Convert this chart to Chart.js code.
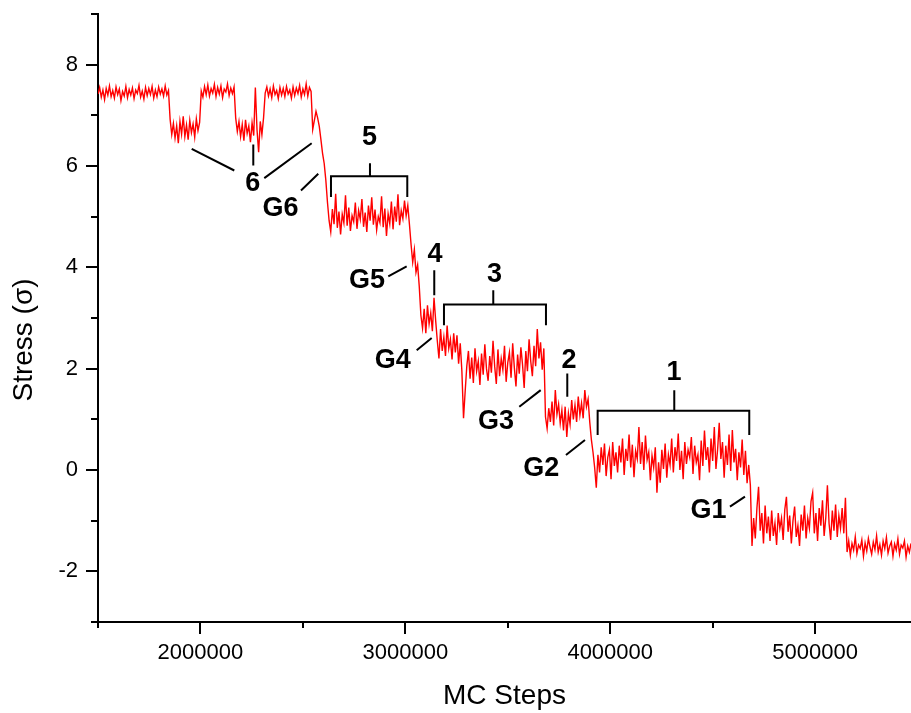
<!DOCTYPE html>
<html>
<head>
<meta charset="utf-8">
<title>Stress vs MC Steps</title>
<style>
  html, body { margin: 0; padding: 0; background: #fff; }
  #wrap { width: 911px; height: 713px; position: relative; }
</style>
<script src="https://cdn.jsdelivr.net/npm/chart.js@4.4.1/dist/chart.umd.min.js"></script>
</head>
<body>
<div id="wrap"><canvas id="stress-chart"></canvas></div>
<script>
/* Stress (sigma) against Monte Carlo steps, sampled every 8000 steps from 1.5M.
   Values read off the plot, plateau by plateau. */

const SAMPLE_START = 1500000;
const SAMPLE_EVERY = 8000;
const X_MIN = 1500000;
const X_MAX = 5468000;
const Y_MIN = -3;
const Y_MAX = 9;

// tick positions; labels only on the long ones
const X_TICKS = [1500000, 2000000, 2500000, 3000000, 3500000, 4000000, 4500000, 5000000];
const X_LABELLED = [2000000, 3000000, 4000000, 5000000];
const Y_TICKS = [-3, -2, -1, 0, 1, 2, 3, 4, 5, 6, 7, 8, 9];
const Y_LABELLED = [-2, 0, 2, 4, 6, 8];

// ~7.45 plateau with the three excursions marked "6"
const STRESS_TOP = [
  7.42, 7.55, 7.36, 7.50, 7.31, 7.53, 7.40, 7.58, 7.37, 7.49,
  7.34, 7.56, 7.41, 7.52, 7.29, 7.47, 7.38, 7.57, 7.35, 7.51,
  7.40, 7.54, 7.33, 7.50, 7.43, 7.59, 7.36, 7.48, 7.32, 7.55,
  7.39, 7.53, 7.41, 7.57, 7.34, 7.50, 7.37, 7.56, 7.42, 7.52,
  7.38, 7.58, 7.40, 7.49,
  6.92, 6.62, 6.84, 6.55, 6.79, 6.45, 6.88, 6.63, 6.98, 6.58,
  6.81, 6.52, 6.90, 6.66, 6.83, 6.57, 6.93, 6.70, 6.86,
  7.48, 7.36, 7.57, 7.41, 7.60, 7.38, 7.53, 7.44, 7.61, 7.37,
  7.55, 7.42, 7.58, 7.35, 7.52, 7.46, 7.62, 7.39, 7.54, 7.43,
  7.56,
  6.95, 6.68, 6.88, 6.58, 6.82, 6.50, 6.91, 6.64, 6.79, 6.47,
  6.85, 6.60, 7.55, 6.72, 6.27, 6.88, 6.62, 6.95,
  7.44, 7.56, 7.38, 7.52, 7.35, 7.58, 7.41, 7.49, 7.33, 7.55,
  7.40, 7.53, 7.37, 7.57, 7.42, 7.50, 7.34, 7.56, 7.39, 7.54,
  7.43, 7.59, 7.36, 7.52, 7.41, 7.62, 7.38, 7.55, 7.47
];
const STRESS_G6 = [6.72, 6.90, 7.08, 6.95, 6.78, 6.52, 6.25, 6.05, 5.72, 5.28, 4.92];
const STRESS_5 = [
  4.70, 5.15, 4.85, 5.45, 4.78, 5.10, 4.65, 5.05, 4.88, 5.42,
  4.82, 5.18, 4.72, 5.02, 4.90, 5.28, 4.76, 5.12, 4.95, 5.35,
  4.80, 5.08, 4.70, 5.22, 4.92, 5.38, 4.84, 5.14, 4.74, 5.00,
  4.88, 5.40, 4.79, 5.16, 4.62, 5.06, 4.86, 5.30, 4.75, 5.20,
  4.90, 5.44, 4.83, 5.12, 4.96, 5.32, 5.02, 5.22
];
const STRESS_G5 = [4.85, 4.45, 4.10, 4.35, 3.90, 4.05];
const STRESS_4 = [3.62, 3.05, 2.80, 3.18, 2.70, 3.25, 2.88, 3.10, 2.74, 3.40, 2.95];
const STRESS_3 = [
  2.55, 2.20, 2.78, 2.35, 2.62, 2.25, 2.85, 2.40, 2.58, 2.18,
  2.70, 2.32, 2.66, 2.10, 2.50, 1.95, 1.02,
  1.55, 2.05, 2.35, 1.80, 2.22, 1.72, 2.40, 1.95, 2.15, 1.68,
  2.30, 1.88, 2.48, 2.00, 1.76, 2.25, 1.92, 2.55, 2.05, 1.70,
  2.38, 1.85, 2.20, 1.98, 2.45, 1.74, 2.12, 2.32, 1.82, 2.50,
  2.02, 1.65, 2.28, 1.90, 2.42, 2.08, 1.62, 2.35, 1.95, 2.58,
  2.15, 1.85, 2.45, 2.05, 2.78, 2.20, 2.52, 1.98, 2.40
];
const STRESS_2 = [
  1.05, 0.82, 1.22, 0.95, 1.35, 0.88, 1.58, 1.10, 1.30, 0.92,
  1.18, 0.78, 1.25, 0.65, 1.12, 0.90, 1.38, 1.00, 1.28, 0.95,
  1.45, 1.08, 1.32, 1.02, 1.58, 1.25, 1.40, 0.95, 0.60
];
const STRESS_1 = [
  0.35, 0.05, -0.35, 0.30, -0.05, 0.45, 0.10, 0.52, -0.12, 0.25,
  0.40, -0.18, 0.55, 0.08, 0.35, -0.05, 0.48, 0.15, 0.62, -0.10,
  0.42, 0.18, 0.70, 0.05, 0.50, -0.14, 0.38, 0.22, 0.85, 0.12,
  0.55, 0.00, 0.68, 0.20, 0.35, -0.20, 0.28, 0.05, 0.45, -0.45,
  0.15, -0.25, 0.40, 0.02, 0.52, -0.15, 0.30, 0.10, 0.62, -0.05,
  0.45, 0.18, 0.72, 0.00, 0.38, -0.18, 0.55, 0.12, 0.40, 0.25,
  0.65, -0.08, 0.48, 0.15, 0.30, -0.20, 0.58, 0.08, 0.78, 0.20,
  0.45, -0.05, 0.62, 0.18, 0.85, 0.02, 0.40, 0.93, 0.22, 0.55,
  -0.15, 0.48, 0.10, 0.70, -0.02, 0.79, 0.15, 0.42, -0.20, 0.35,
  0.05, 0.60, -0.10, 0.38, -0.26, 0.10
];
const STRESS_AFTER_G1 = [
  -0.30, -1.50, -0.95, -1.35, -0.75, -0.33, -1.20, -0.85, -1.45, -0.70,
  -1.25, -0.92, -1.40, -0.80, -1.30, -1.05, -1.48, -0.85, -1.15, -0.95,
  -1.38, -0.78, -0.53, -1.22, -0.90, -1.45, -1.00, -0.72, -1.32, -1.10,
  -1.50, -0.88, -1.20, -0.70, -1.35, -0.95, -1.15, -0.62, -0.45, -1.25,
  -0.85, -1.40, -0.75, -1.10, -0.60, -1.30, -0.95, -0.30, -1.05, -1.38,
  -0.80, -1.20, -0.68, -1.32, -0.90, -1.15, -0.75, -1.25, -0.55
];
const STRESS_END = [
  -1.62, -1.40, -1.68, -1.45, -1.58, -1.32, -1.65, -1.48, -1.55, -1.38,
  -1.70, -1.44, -1.60, -1.35, -1.52, -1.66, -1.42, -1.57, -1.30, -1.62,
  -1.47, -1.68, -1.40, -1.55, -1.33, -1.64, -1.50, -1.42, -1.70, -1.46,
  -1.58, -1.36, -1.66, -1.48, -1.54, -1.40, -1.72, -1.50, -1.62, -1.45
];

// annotations, in data units: labels, leader lines, brackets
const NOTE_TEXT = ['6', 'G6', '5', 'G5', '4', '3', 'G4', 'G3', '2', '1', 'G2', 'G1'];
const NOTE_X = [2255400, 2390600, 2824900, 2812700, 3144600, 3434900, 2938600, 3442200, 3798500, 4310900, 3663300, 4480200];
const NOTE_Y = [5.655, 5.166, 6.567, 3.744, 4.256, 3.848, 2.162, 0.952, 2.162, 1.931, 0.033, -0.808];

// [x1, y1, x2, y2]
const LEADERS = [
  [1957300, 6.339, 2165200, 5.911],
  [2257900, 6.424, 2257900, 6.010],
  [2311600, 5.760, 2542900, 6.449],
  [2490700, 5.517, 2575100, 5.846],
  [2916700, 3.823, 3006500, 4.020],
  [3141200, 3.941, 3141200, 3.448],
  [3055400, 2.365, 3128600, 2.607],
  [3556200, 1.247, 3660600, 1.576],
  [3790400, 1.905, 3790400, 1.444],
  [3784000, 0.296, 3876800, 0.591],
  [4584400, -0.723, 4657600, -0.526]
];
// [left, right, barY, footY, stemX, stemTop]
const BRACKETS = [
  [2637100, 3009500, 5.799, 5.389, 2827400, 6.055],
  [3188600, 3686400, 3.265, 2.857, 3429200, 3.547],
  [3938600, 4678600, 1.168, 0.690, 4312600, 1.576]
];

const FONT = "'Liberation Sans', Arial, sans-serif";

const stress = [].concat(STRESS_TOP, STRESS_G6, STRESS_5, STRESS_G5, STRESS_4,
  STRESS_3, STRESS_2, STRESS_1, STRESS_AFTER_G1, STRESS_END);
const points = stress.map(function (v, i) {
  return { x: SAMPLE_START + i * SAMPLE_EVERY, y: v };
});

// outward tick marks, long on labelled values, short in between
const axisTicks = {
  id: 'axisTicks',
  afterDraw: function (chart) {
    const ctx = chart.ctx;
    const xs = chart.scales.x, ys = chart.scales.y, area = chart.chartArea;
    ctx.save();
    ctx.strokeStyle = '#000';
    ctx.lineWidth = 2;
    ctx.beginPath();
    xs.ticks.forEach(function (t) {
      const px = Math.round(xs.getPixelForValue(t.value));
      const len = X_LABELLED.indexOf(t.value) >= 0 ? 12 : 6;
      ctx.moveTo(px, area.bottom);
      ctx.lineTo(px, area.bottom + len);
    });
    ys.ticks.forEach(function (t) {
      const py = Math.round(ys.getPixelForValue(t.value));
      const len = Y_LABELLED.indexOf(t.value) >= 0 ? 12 : 7;
      ctx.moveTo(area.left, py);
      ctx.lineTo(area.left - len, py);
    });
    ctx.stroke();

    // y title sits a little below the middle of the axis in the original
    ctx.fillStyle = '#000';
    ctx.font = '28px ' + FONT;
    ctx.textAlign = 'center';
    ctx.textBaseline = 'middle';
    ctx.translate(24, 340);
    ctx.rotate(-Math.PI / 2);
    ctx.fillText('Stress (\u03c3)', 0, 0);
    ctx.restore();
  }
};

const notes = {
  id: 'notes',
  afterDatasetsDraw: function (chart) {
    const ctx = chart.ctx;
    const xs = chart.scales.x, ys = chart.scales.y;
    const X = function (v) { return xs.getPixelForValue(v); };
    const Y = function (v) { return ys.getPixelForValue(v); };
    ctx.save();
    ctx.strokeStyle = '#000';
    ctx.lineWidth = 2;
    ctx.beginPath();
    LEADERS.forEach(function (l) {
      ctx.moveTo(X(l[0]), Y(l[1]));
      ctx.lineTo(X(l[2]), Y(l[3]));
    });
    BRACKETS.forEach(function (b) {
      ctx.moveTo(X(b[0]), Y(b[3]));
      ctx.lineTo(X(b[0]), Y(b[2]));
      ctx.lineTo(X(b[1]), Y(b[2]));
      ctx.lineTo(X(b[1]), Y(b[3]));
      ctx.moveTo(X(b[4]), Y(b[2]));
      ctx.lineTo(X(b[4]), Y(b[5]));
    });
    ctx.stroke();
    ctx.fillStyle = '#000';
    ctx.font = 'bold 27px ' + FONT;
    ctx.textAlign = 'center';
    ctx.textBaseline = 'middle';
    NOTE_TEXT.forEach(function (t, i) {
      ctx.fillText(t, X(NOTE_X[i]), Y(NOTE_Y[i]));
    });
    ctx.restore();
  }
};

new Chart(document.getElementById('stress-chart'), {
  type: 'line',
  data: {
    datasets: [{
      data: points,
      borderColor: '#ff0000',
      borderWidth: 1.4,
      pointRadius: 0,
      tension: 0,
      fill: false
    }]
  },
  options: {
    responsive: true,
    maintainAspectRatio: false,
    animation: false,
    layout: { padding: { top: 14, right: 0, bottom: 0, left: 0 } },
    plugins: {
      legend: { display: false },
      tooltip: { enabled: false }
    },
    scales: {
      x: {
        type: 'linear',
        min: X_MIN,
        max: X_MAX,
        grid: { display: false, drawTicks: false },
        border: { display: true, color: '#000', width: 2 },
        afterBuildTicks: function (s) {
          s.ticks = X_TICKS.map(function (v) { return { value: v }; });
        },
        ticks: {
          autoSkip: false,
          maxRotation: 0,
          padding: 18,
          color: '#000',
          font: { family: FONT, size: 22 },
          callback: function (v) { return X_LABELLED.indexOf(v) >= 0 ? String(v) : ''; }
        },
        title: {
          display: true,
          text: 'MC Steps',
          color: '#000',
          font: { family: FONT, size: 28 },
          padding: { top: 0, bottom: 0 }
        },
        afterFit: function (s) { s.height = 91; s.paddingLeft = 0; s.paddingRight = 0; }
      },
      y: {
        min: Y_MIN,
        max: Y_MAX,
        grid: { display: false, drawTicks: false },
        border: { display: true, color: '#000', width: 2 },
        afterBuildTicks: function (s) {
          s.ticks = Y_TICKS.map(function (v) { return { value: v }; });
        },
        ticks: {
          autoSkip: false,
          padding: 20,
          color: '#000',
          font: { family: FONT, size: 22 },
          callback: function (v) { return Y_LABELLED.indexOf(v) >= 0 ? String(v) : ''; }
        },
        afterFit: function (s) { s.width = 98; s.paddingTop = 0; s.paddingBottom = 0; }
      }
    }
  },
  plugins: [axisTicks, notes]
});
</script>
</body>
</html>
